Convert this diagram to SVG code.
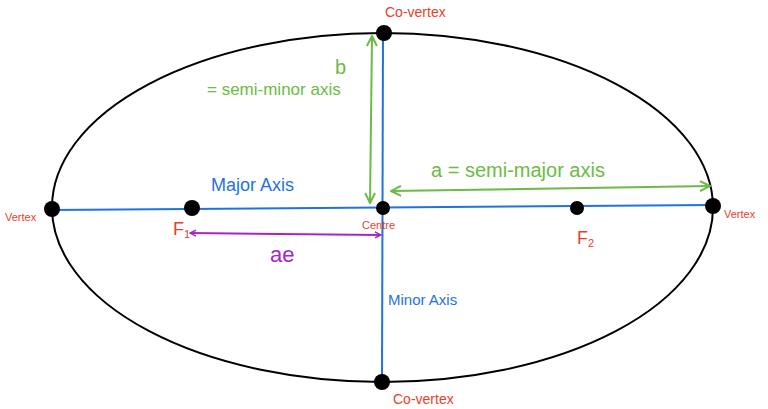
<svg xmlns="http://www.w3.org/2000/svg" width="768" height="409" viewBox="0 0 768 409">
<defs>
<style>
.lbl{font-family:"Liberation Sans","DejaVu Sans",sans-serif}
.red{fill:#e5422b}
.blue{fill:#1f72e0}
.green{fill:#6cbb45}
.purple{fill:#a526c8}
.dot{fill:#000}
.axis{stroke:#1f72e0;stroke-width:2;fill:none}
.garr{stroke:#6cbb45;stroke-width:2;fill:none;marker-start:url(#gs);marker-end:url(#ge)}
.parr{stroke:#a526c8;stroke-width:2;fill:none;marker-start:url(#ps);marker-end:url(#pe)}
</style>
<marker id="ge" viewBox="0 0 12 12" refX="11" refY="6" markerWidth="12" markerHeight="12" markerUnits="userSpaceOnUse" orient="auto"><path d="M1,1 L11,6 L1,11" fill="none" stroke="#6cbb45" stroke-width="2"/></marker>
<marker id="gs" viewBox="0 0 12 12" refX="1" refY="6" markerWidth="12" markerHeight="12" markerUnits="userSpaceOnUse" orient="auto"><path d="M11,1 L1,6 L11,11" fill="none" stroke="#6cbb45" stroke-width="2"/></marker>
<marker id="pe" viewBox="0 0 8 8" refX="7" refY="4" markerWidth="8" markerHeight="8" markerUnits="userSpaceOnUse" orient="auto"><path d="M1,1 L7,4 L1,7" fill="none" stroke="#a526c8" stroke-width="1.5"/></marker>
<marker id="ps" viewBox="0 0 8 8" refX="1" refY="4" markerWidth="8" markerHeight="8" markerUnits="userSpaceOnUse" orient="auto"><path d="M7,1 L1,4 L7,7" fill="none" stroke="#a526c8" stroke-width="1.5"/></marker>
</defs>
<rect width="768" height="409" fill="#fff"/>
<g id="ellipse"><ellipse cx="382.5" cy="207.5" rx="330.5" ry="174.5" fill="none" stroke="#000" stroke-width="2"/></g>
<g id="connectors">
<line class="axis" x1="52" y1="210" x2="713" y2="205"/>
<line class="axis" x1="383" y1="33" x2="382" y2="382"/>
<line class="garr" x1="372" y1="36" x2="370" y2="203"/>
<line class="garr" x1="391" y1="191" x2="710" y2="186"/>
<line class="parr" x1="190" y1="233" x2="381" y2="235"/>
</g>
<g id="vertex-left"><circle class="dot" cx="52" cy="209" r="8"/><text class="lbl red" x="5" y="221" style="font-size:11px">Vertex</text></g>
<g id="vertex-right"><circle class="dot" cx="713" cy="206" r="8"/><text class="lbl red" x="724" y="218" style="font-size:11px">Vertex</text></g>
<g id="covertex-top"><circle class="dot" cx="384" cy="33" r="8"/><text class="lbl red" x="385" y="17" style="font-size:14px">Co-vertex</text></g>
<g id="covertex-bottom"><circle class="dot" cx="382" cy="382" r="8"/><text class="lbl red" x="393" y="404" style="font-size:14px">Co-vertex</text></g>
<g id="centre"><circle class="dot" cx="383" cy="208" r="7"/><text class="lbl red" x="362" y="229" style="font-size:11px">Centre</text></g>
<g id="f1"><circle class="dot" cx="192" cy="208" r="8"/><text class="lbl red" x="173" y="235" style="font-size:18px">F<tspan style="font-size:11px" dy="3">1</tspan></text></g>
<g id="f2"><circle class="dot" cx="577" cy="208" r="7"/><text class="lbl red" x="577" y="244" style="font-size:18px">F<tspan style="font-size:11px" dy="3">2</tspan></text></g>
<g id="labels">
<text class="lbl blue" x="211" y="191" style="font-size:18px">Major Axis</text>
<text class="lbl blue" x="388" y="305" style="font-size:15px">Minor Axis</text>
<text class="lbl green" x="335" y="74" style="font-size:20px">b</text>
<text class="lbl green" x="207" y="95" style="font-size:17px">= semi-minor axis</text>
<text class="lbl green" x="431" y="177" style="font-size:20px">a = semi-major axis</text>
<text class="lbl purple" x="270" y="262" style="font-size:22px">ae</text>
</g>
</svg>
